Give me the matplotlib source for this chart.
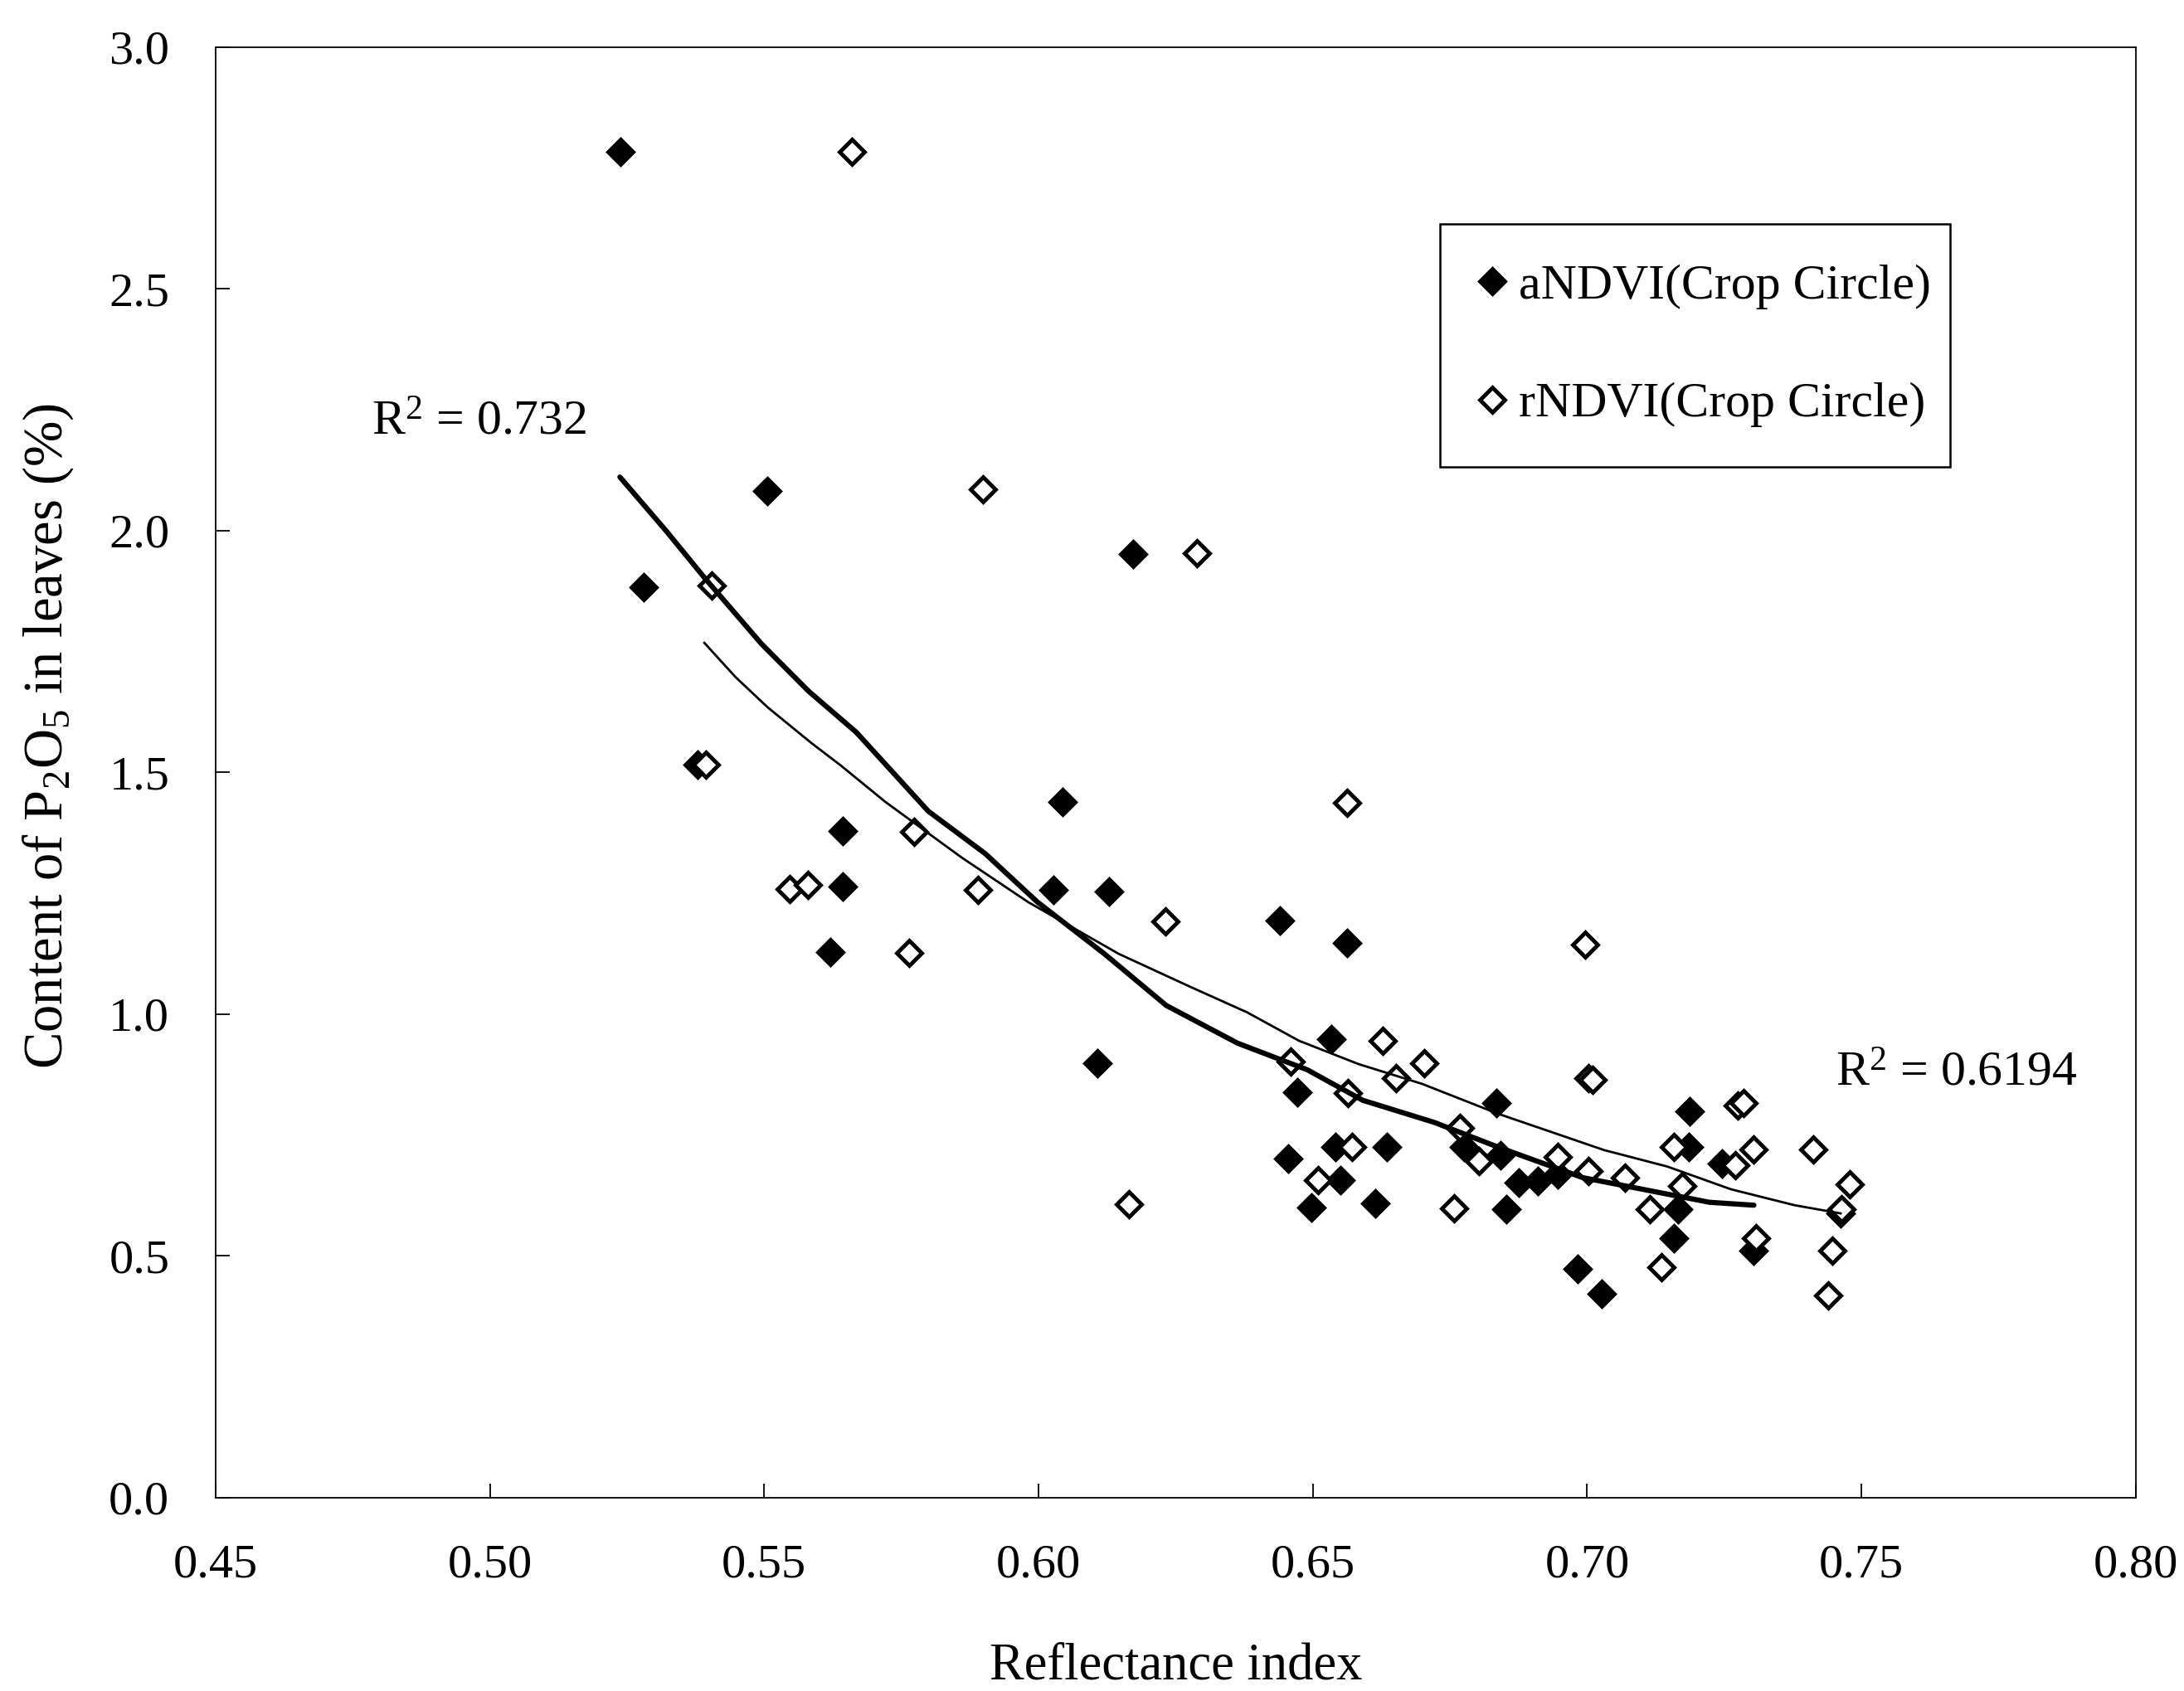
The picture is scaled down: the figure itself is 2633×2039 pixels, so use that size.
import matplotlib
matplotlib.use('Agg')
import matplotlib.pyplot as plt
from matplotlib.lines import Line2D

plt.rcParams['font.family'] = ['Liberation Serif', 'DejaVu Serif']
plt.rcParams['mathtext.fontset'] = 'custom'
plt.rcParams['mathtext.rm'] = 'Liberation Serif'
plt.rcParams['mathtext.it'] = 'Liberation Serif:italic'

# ── data ──────────────────────────────────────────────────────────────────────
# aNDVI (Crop Circle) – filled diamonds
andvi_x = [0.5238, 0.5281, 0.5506, 0.5378, 0.5643, 0.5643, 0.5621, 0.6172,
           0.6044, 0.6027, 0.6129, 0.6107, 0.6440, 0.6562, 0.6533, 0.6471,
           0.6455, 0.6541, 0.6635, 0.6551, 0.6498, 0.6614, 0.6834, 0.6776,
           0.6842, 0.6876, 0.6910, 0.6946, 0.6853, 0.6983, 0.7027, 0.7187,
           0.7185, 0.7246, 0.7166, 0.7158, 0.7304, 0.7462]
andvi_y = [2.783, 1.883, 2.083, 1.516, 1.379, 1.264, 1.129, 1.951,
           1.439, 1.257, 1.254, 0.899, 1.194, 1.147, 0.948, 0.839,
           0.702, 0.725, 0.725, 0.656, 0.601, 0.608, 0.816, 0.725,
           0.708, 0.651, 0.655, 0.668, 0.596, 0.473, 0.422, 0.799,
           0.725, 0.691, 0.596, 0.536, 0.511, 0.588]

# rNDVI (Crop Circle) – open diamonds
rndvi_x = [0.5660, 0.5899, 0.6289, 0.5405, 0.5393, 0.5547, 0.5580, 0.5773,
           0.5890, 0.5764, 0.6231, 0.6562, 0.6165, 0.6460, 0.6628, 0.6703,
           0.6651, 0.6564, 0.6996, 0.7003, 0.7010, 0.7274, 0.7285, 0.6768,
           0.6571, 0.7158, 0.7304, 0.7412, 0.6803, 0.6946, 0.7003, 0.7069,
           0.7270, 0.7173, 0.7478, 0.7115, 0.7463, 0.6510, 0.6757, 0.7308,
           0.7447, 0.7135, 0.7439]
rndvi_y = [2.783, 2.086, 1.954, 1.886, 1.516, 1.259, 1.267, 1.378,
           1.257, 1.127, 1.192, 1.438, 0.607, 0.902, 0.945, 0.899,
           0.868, 0.837, 1.144, 0.868, 0.865, 0.811, 0.816, 0.765,
           0.725, 0.725, 0.720, 0.720, 0.696, 0.705, 0.676, 0.662,
           0.688, 0.645, 0.648, 0.596, 0.596, 0.656, 0.599, 0.536,
           0.511, 0.476, 0.419]

# trend lines
fit_a_x = [0.5237, 0.5321, 0.5391, 0.5495, 0.5581, 0.5668, 0.5799, 0.5903,
           0.5998, 0.6120, 0.6233, 0.6363, 0.6490, 0.6591, 0.6722, 0.6838,
           0.6992, 0.7146, 0.7223, 0.7304]
fit_a_y = [2.111, 2.000, 1.903, 1.766, 1.668, 1.583, 1.420, 1.332,
           1.232, 1.125, 1.018, 0.940, 0.885, 0.822, 0.776, 0.725,
           0.662, 0.628, 0.611, 0.605]

fit_r_x = [0.5391, 0.5448, 0.5506, 0.5587, 0.5639, 0.5721, 0.5860, 0.5981,
           0.6146, 0.6276, 0.6380, 0.6475, 0.6583, 0.6699, 0.6838, 0.7031,
           0.7146, 0.7262, 0.7378, 0.7462]
fit_r_y = [1.768, 1.697, 1.635, 1.560, 1.515, 1.439, 1.324, 1.232,
           1.125, 1.057, 1.004, 0.945, 0.897, 0.856, 0.794, 0.719,
           0.685, 0.638, 0.605, 0.588]

xticks = [0.45, 0.50, 0.55, 0.60, 0.65, 0.70, 0.75, 0.80]
yticks = [0.0, 0.5, 1.0, 1.5, 2.0, 2.5, 3.0]

# ── figure ────────────────────────────────────────────────────────────────────
fig = plt.figure(figsize=(26.33, 20.39), dpi=100)
ax = fig.add_axes([0.0987, 0.1143, 0.8792, 0.8578])

MS, MEW = 15, 3.5
ax.plot(andvi_x, andvi_y, ls='none', marker='D', ms=MS, mew=MEW,
        mfc='black', mec='black', zorder=3)
ax.plot(rndvi_x, rndvi_y, ls='none', marker='D', ms=MS, mew=MEW,
        mfc='white', mec='black', zorder=4)

ax.plot(fit_a_x, fit_a_y, color='black', lw=4.5, zorder=5,
        solid_capstyle='round', solid_joinstyle='round')
ax.plot(fit_r_x, fit_r_y, color='black', lw=2.0, zorder=5,
        solid_joinstyle='round')

ax.text(0.4784, 2.199, r'R$^{\mathrm{2}}$ = 0.732', fontsize=43,
        ha='left', va='baseline')
ax.text(0.7453, 0.853, r'R$^{\mathrm{2}}$ = 0.6194', fontsize=43,
        ha='left', va='baseline')

ax.set_xlim(0.45, 0.80)
ax.set_ylim(0.0, 3.0)
ax.set_xticks(xticks)
ax.set_yticks(yticks)
ax.set_xticklabels([f'{v:.2f}' for v in xticks])
ax.set_yticklabels([f'{v:.1f}' for v in yticks])
ax.tick_params(direction='in', length=12, width=1.3, labelsize=42,
               top=False, right=False)
ax.tick_params(axis='x', pad=40)
ax.tick_params(axis='y', pad=40)
for s in ax.spines.values():
    s.set_linewidth(1.3)

ax.set_xlabel('Reflectance index', fontsize=45, labelpad=48)
ax.set_ylabel(r'Content of P$_{\mathrm{2}}$O$_{\mathrm{5}}$ in leaves (%)',
              fontsize=48)
ax.yaxis.set_label_coords(-0.073, 0.525)

handles = [
    Line2D([0], [0], ls='none', marker='D', ms=MS, mew=MEW,
           mfc='black', mec='black', label='aNDVI(Crop Circle)'),
    Line2D([0], [0], ls='none', marker='D', ms=MS, mew=MEW,
           mfc='white', mec='black', label='rNDVI(Crop Circle)'),
]
# legend box fixed to the frame seen in the figure
leg = ax.legend(handles=handles, loc='upper left', mode='expand',
                bbox_to_anchor=(0.6376, 0.713, 0.2656, 0.165), fontsize=43,
                frameon=True, fancybox=False, shadow=False,
                borderpad=0.8, labelspacing=1.47, handlelength=0.5,
                handletextpad=0.3, borderaxespad=0.0)
leg.get_frame().set_edgecolor('black')
leg.get_frame().set_linewidth(1.8)
leg.get_frame().set_alpha(1.0)

fig.savefig('out.png', dpi=100, facecolor='white')
